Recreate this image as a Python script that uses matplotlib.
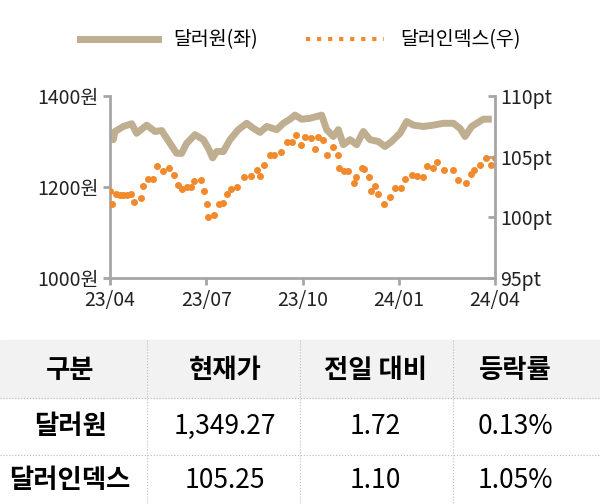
import matplotlib
matplotlib.use("Agg")
from matplotlib import pyplot as plt
from matplotlib.patches import Rectangle
from matplotlib.lines import Line2D

plt.rcParams['font.family'] = ['Noto Sans CJK KR', 'Noto Sans CJK JP', 'Noto Sans CJK SC', 'DejaVu Sans']

# x positions in zoom pixels (90 = 23/04, 1245 = 24/04)
usd_zx = [90, 100, 105, 130, 155, 170, 200, 225, 245, 270, 290, 305, 320, 345, 370, 385, 398, 410, 430, 450, 475, 500, 520, 540, 560, 590, 610, 630, 645, 665, 690, 710, 725, 740, 760, 775, 790, 810, 830, 850, 870, 895, 915, 935, 960, 980, 1000, 1030, 1060, 1090, 1120, 1140, 1155, 1175, 1190, 1210, 1225]
usd_y = [1318, 1304, 1322, 1333, 1339, 1318, 1336, 1322, 1324, 1296, 1274, 1274, 1296, 1315, 1304, 1285, 1264, 1278, 1278, 1304, 1326, 1340, 1329, 1320, 1333, 1326, 1340, 1349, 1358, 1349, 1351, 1355, 1358, 1326, 1311, 1326, 1293, 1304, 1293, 1322, 1304, 1300, 1289, 1300, 1318, 1344, 1336, 1333, 1336, 1340, 1340, 1329, 1311, 1333, 1340, 1349, 1349]

dxy_zx = [90, 97, 108, 120, 130, 140, 153, 162, 183, 190, 205, 218, 232, 250, 268, 282, 293, 307, 320, 333, 342, 362, 373, 380, 383, 403, 417, 428, 442, 452, 471, 491, 512, 530, 539, 553, 570, 583, 603, 620, 635, 647, 663, 675, 692, 706, 715, 729, 740, 760, 773, 778, 791, 805, 821, 829, 845, 853, 867, 872, 885, 893, 912, 930, 944, 962, 975, 995, 1012, 1028, 1040, 1060, 1070, 1093, 1118, 1135, 1158, 1173, 1183, 1200, 1218, 1233, 1245]
dxy_y = [102.2, 101.1, 101.9, 101.8, 101.8, 101.8, 101.9, 101.3, 101.6, 102.6, 103.2, 103.2, 104.2, 103.8, 104.1, 103.5, 102.7, 102.3, 102.5, 102.5, 103.0, 103.1, 102.2, 101.1, 100.0, 100.2, 101.1, 101.2, 101.9, 102.3, 102.5, 103.3, 103.4, 103.9, 103.4, 104.3, 105.1, 105.1, 105.4, 106.2, 106.2, 106.8, 106.0, 106.6, 106.5, 105.6, 106.6, 106.4, 105.1, 105.8, 105.1, 104.1, 103.8, 103.8, 102.8, 103.3, 104.1, 104.0, 103.3, 102.2, 102.6, 101.9, 101.1, 101.7, 102.4, 102.4, 103.2, 103.5, 103.4, 103.3, 104.2, 104.1, 104.6, 103.9, 103.9, 103.1, 102.8, 103.6, 103.9, 104.3, 104.9, 104.3, 104.9]

usd_x = [(v - 90) / (1245 - 90) * 12 for v in usd_zx]
dxy_x = [(v - 90) / (1245 - 90) * 12 for v in dxy_zx]

x_ticks = [0, 3, 6, 9, 12]
x_labels = ['23/04', '23/07', '23/10', '24/01', '24/04']
left_ticks = [1000, 1200, 1400]
right_ticks = [95, 100, 105, 110]

table_header = ['구분', '현재가', '전일 대비', '등락률']
table_rows = [['달러원', '1,349.27', '1.72', '0.13%'],
              ['달러인덱스', '105.25', '1.10', '1.05%']]

W, H = 600, 504
fig = plt.figure(figsize=(6, 5.04), dpi=100)

ax = fig.add_axes([110 / W, 1 - 278 / H, 385 / W, 182 / H])
ax2 = ax.twinx()
gray = '#a6a6a6'
ax.plot(usd_x, usd_y, color='#bfae90', lw=5, solid_joinstyle='round')
ax2.plot(dxy_x, dxy_y, ls='none', marker='o', ms=4, color='#f08a2c')
ax.set_xlim(0, 12)
ax.set_ylim(1000, 1400)
ax2.set_ylim(95, 110)
ax.set_xticks(x_ticks, x_labels)
ax.set_yticks(left_ticks, [f'{v}원' for v in left_ticks])
ax2.set_yticks(right_ticks, [f'{v}pt' for v in right_ticks])
for a in (ax, ax2):
    for s in a.spines.values():
        s.set_visible(False)
    a.tick_params(colors=gray, labelcolor='#222222', labelsize=14, width=2, length=5)
ax2.tick_params(axis='y', direction='in')
ax.spines['left'].set_visible(True)
ax.spines['bottom'].set_visible(True)
ax2.spines['right'].set_visible(True)
for s in (ax.spines['left'], ax.spines['bottom'], ax2.spines['right']):
    s.set_color(gray)
    s.set_linewidth(2)

# legend
h1 = Line2D([], [], color='#bfae90', lw=5)
h2 = Line2D([], [], color='#f08a2c', ls=':', lw=3)
fig.legend([h1, h2], ['달러원(좌)', '달러인덱스(우)'], loc='center', ncol=2,
           bbox_to_anchor=(0.5, 1 - 40 / H), frameon=False, fontsize=14,
           handlelength=4, columnspacing=2.5)

# table
fig.patches.append(Rectangle((0, 1 - 398 / H), 1, 58 / H, transform=fig.transFigure,
                             color='#f2f2f2', zorder=0))
for yy in (398, 455):
    fig.add_artist(Line2D([0, 1], [1 - yy / H] * 2, color='#bbbbbb', lw=0.8, ls=':'))
for xx in (147, 300, 453):
    fig.add_artist(Line2D([xx / W] * 2, [1 - 340 / H, 0], color='#bbbbbb', lw=0.8, ls=':'))
col_x = [70, 225, 375, 515]
for cx, t in zip(col_x, table_header):
    fig.text(cx / W, 1 - 370 / H, t, ha='center', va='center', fontsize=19, fontweight='bold')
for ry, row in zip((426, 481), table_rows):
    for i, (cx, t) in enumerate(zip(col_x, row)):
        fig.text(cx / W, 1 - ry / H, t, ha='center', va='center', fontsize=19,
                 fontweight='bold' if i == 0 else 'normal')

fig.savefig('out.png', dpi=100)
